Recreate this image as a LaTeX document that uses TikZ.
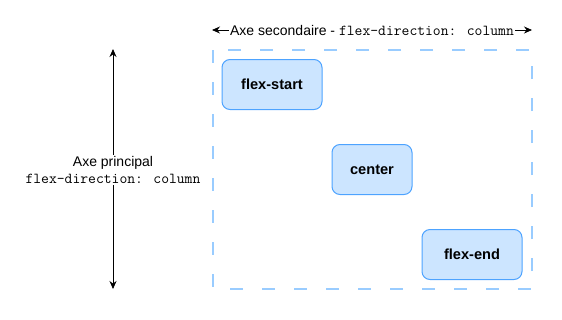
\documentclass[tikz,border=0pt]{standalone}
\usepackage{fontspec}
\setmainfont{Liberation Sans}
\usetikzlibrary{arrows.meta}
\definecolor{itemfill}{HTML}{CCE5FF}
\definecolor{itemline}{HTML}{4DA3FF}
\definecolor{frameline}{HTML}{99CCFF}
\newcommand{\monotext}[1]{{\fontsize{15.2}{17}\ttfamily #1}}
\tikzset{
  item/.style={draw=itemline, fill=itemfill, line width=1pt, rounded corners=8pt,
    minimum width=100pt, minimum height=50pt, font=\fontsize{14.6}{16}\selectfont\bfseries},
  axisline/.style={{Stealth[length=8pt,width=7pt]}-{Stealth[length=8pt,width=7pt]}, line width=0.8pt},
  axislabel/.style={fill=white, inner sep=1pt, font=\fontsize{14}{17}\selectfont}
}
\begin{document}
\begin{tikzpicture}[x=1pt,y=-1pt]
\useasboundingbox (0,0) rectangle (562,319);
\draw[frameline, line width=2pt, dash pattern=on 13pt off 19pt] (213,50) rectangle (532,289);
\node[item] (start) at (272,84.5){flex-start};
\node[item, minimum width=80pt] (center) at (372,169.5){center};
\node[item] (end) at (472,254.5){flex-end};
\coordinate (htop) at (212,30);
\coordinate (hend) at (532,30);
\draw[axisline] (htop) -- (hend);
\node[axislabel] (hlabel) at (372,30){Axe secondaire - \monotext{flex-direction: column}};
\coordinate (vtop) at (113,49);
\coordinate (vend) at (113,289);
\draw[axisline] (vtop) -- (vend);
\node[axislabel, align=center] (vlabel) at (113,170){Axe principal\\\monotext{flex-direction: column}};
\end{tikzpicture}
\end{document}
